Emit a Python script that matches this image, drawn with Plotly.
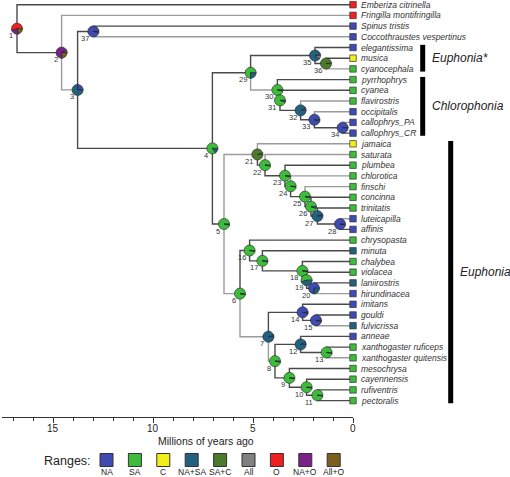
import math
import plotly.graph_objects as go

# ---------------- data ----------------
range_names = ["NA", "SA", "C", "NA+SA", "SA+C", "All", "O", "NA+O", "All+O"]
range_colors = ["#3f4bb0", "#3dbb3a", "#f2ee1a", "#23617f", "#4a7a2b",
                "#808080", "#ee2020", "#7b2189", "#7a5f1f"]

tips = ["Emberiza citrinella", "Fringilla montifringilla", "Spinus tristis",
        "Coccothraustes vespertinus", "elegantissima", "musica", "cyanocephala",
        "pyrrhophrys", "cyanea", "flavirostris", "occipitalis", "callophrys_PA",
        "callophrys_CR", "jamaica", "saturata", "plumbea", "chlorotica", "finschi",
        "concinna", "trinitatis", "luteicapilla", "affinis", "chrysopasta", "minuta",
        "chalybea", "violacea", "laniirostris", "hirundinacea", "imitans", "gouldi",
        "fulvicrissa", "anneae", "xanthogaster ruficeps", "xanthogaster quitensis",
        "mesochrysa", "cayennensis", "rufiventris", "pectoralis"]
tip_ranges = ["O", "O", "NA", "NA", "NA", "C", "SA", "SA", "SA", "SA", "NA", "NA",
              "NA", "C", "SA", "SA", "SA", "SA", "SA", "SA", "NA", "NA", "SA", "NA+SA",
              "SA", "SA", "NA+SA", "NA", "NA", "NA", "NA+SA", "NA", "SA", "SA",
              "SA", "SA", "SA", "SA"]

node_ids = [1, 2, 3, 37, 4, 29, 35, 36, 30, 31, 32, 33, 34, 5, 21, 22, 23, 24, 25,
            26, 27, 28, 6, 16, 17, 18, 19, 20, 7, 14, 15, 8, 12, 13, 9, 10, 11]
node_ages = [16.8, 14.57, 13.77, 12.98, 7.03, 5.12, 1.9, 1.35, 3.78, 3.65, 2.62,
             1.93, 0.52, 6.45, 4.78, 4.4, 3.4, 3.12, 2.4, 2.1, 1.78, 0.65, 5.65,
             5.17, 4.53, 2.53, 2.32, 1.95, 4.23, 2.52, 1.85, 3.9, 2.62, 1.32, 3.18,
             2.32, 1.78]
node_children = [
    ("Emberiza citrinella", 2), ("Fringilla montifringilla", 3), (37, 4),
    ("Spinus tristis", "Coccothraustes vespertinus"), (29, 5), (35, 30),
    ("elegantissima", 36), ("musica", "cyanocephala"), ("pyrrhophrys", 31),
    ("cyanea", 32), ("flavirostris", 33), ("occipitalis", 34),
    ("callophrys_PA", "callophrys_CR"), (21, 6), ("jamaica", 22), ("saturata", 23),
    ("plumbea", 24), ("chlorotica", 25), ("finschi", 26), ("concinna", 27),
    ("trinitatis", 28), ("luteicapilla", "affinis"), (16, 7), ("chrysopasta", 17),
    ("minuta", 18), ("chalybea", 19), ("violacea", 20),
    ("laniirostris", "hirundinacea"), (14, 8), ("imitans", 15),
    ("gouldi", "fulvicrissa"), (12, 9), ("anneae", 13),
    ("xanthogaster ruficeps", "xanthogaster quitensis"), ("mesochrysa", 10),
    ("cayennensis", 11), ("rufiventris", "pectoralis")]
node_probs = [
    {"O": 0.55, "NA+O": 0.25, "All+O": 0.20},
    {"NA": 0.03, "All": 0.05, "NA+O": 0.68, "All+O": 0.24},
    {"NA": 0.25, "NA+SA": 0.75},
    {"NA": 0.97, "NA+SA": 0.03},
    {"SA": 0.85, "NA+SA": 0.15},
    {"SA": 0.75, "NA+SA": 0.25},
    {"NA": 0.04, "NA+SA": 0.86, "All": 0.10},
    {"C": 0.03, "SA+C": 0.97},
    {"SA": 0.97, "NA+SA": 0.03},
    {"SA": 0.95, "NA+SA": 0.05},
    {"NA": 0.08, "NA+SA": 0.92},
    {"NA": 0.95, "NA+SA": 0.05},
    {"NA": 1.0},
    {"SA": 0.97, "NA+SA": 0.03},
    {"SA": 0.05, "SA+C": 0.95},
    {"SA": 0.98, "SA+C": 0.02},
    {"SA": 0.98, "NA+SA": 0.02},
    {"SA": 0.98, "NA+SA": 0.02},
    {"SA": 0.97, "NA+SA": 0.03},
    {"SA": 0.95, "NA+SA": 0.05},
    {"NA": 0.05, "NA+SA": 0.95},
    {"NA": 0.98, "NA+SA": 0.02},
    {"SA": 0.98, "NA+SA": 0.02},
    {"SA": 0.98, "NA+SA": 0.02},
    {"SA": 0.97, "NA+SA": 0.03},
    {"SA": 0.97, "NA+SA": 0.03},
    {"SA": 0.55, "NA+SA": 0.45},
    {"NA": 0.75, "NA+SA": 0.25},
    {"NA": 0.05, "NA+SA": 0.95},
    {"NA": 0.97, "NA+SA": 0.03},
    {"NA": 0.97, "NA+SA": 0.03},
    {"SA": 0.97, "NA+SA": 0.03},
    {"NA": 0.08, "NA+SA": 0.92},
    {"SA": 0.98, "NA+SA": 0.02},
    {"SA": 0.98, "NA+SA": 0.02},
    {"SA": 0.98, "NA+SA": 0.02},
    {"SA": 0.98, "NA+SA": 0.02},
]

# branches (identified by their child) that are drawn in the lighter grey
light_edges = ["Fringilla montifringilla", 3, "Coccothraustes vespertinus",
               "cyanocephala", 21, 6, 7, 8, "jamaica", "hirundinacea",
               "fulvicrissa", "xanthogaster quitensis", "luteicapilla", "finschi",
               "saturata", "chlorotica", "flavirostris", "occipitalis",
               "callophrys_PA", 30]

clade_names = ["Euphonia*", "Chlorophonia", "Euphonia"]
clade_first = ["elegantissima", "pyrrhophrys", "jamaica"]
clade_last = ["cyanocephala", "callophrys_CR", "pectoralis"]
clade_column = [0, 0, 1]

axis_ticks = [0, 5, 10, 15]

# ---------------- geometry helpers ----------------
W, H = 510, 477
MB = 60                       # bottom margin (axis + legend area)
PH = H - MB                   # plot area height in px
PX_PER_MY = 20.0
X0_PX = 353.0                 # pixel of time 0
ROW_PX = 10.7
ROW0_PX = 4.7
DARK, LIGHT = "#4a4a4a", "#9c9c9c"

xr = [X0_PX / PX_PER_MY, (X0_PX - W) / PX_PER_MY]
yr = [(PH - ROW0_PX) / ROW_PX, -ROW0_PX / ROW_PX]

col = dict(zip(range_names, range_colors))
tip_index = {t: i for i, t in enumerate(tips)}
age_of = dict(zip(node_ids, node_ages))
kids_of = dict(zip(node_ids, node_children))

ypos = {}


def y_of(c):
    if isinstance(c, str):
        return float(tip_index[c])
    if c in ypos:
        return ypos[c]
    a, b = kids_of[c]
    ypos[c] = (y_of(a) + y_of(b)) / 2.0
    return ypos[c]


def x_of(c):
    return 0.0 if isinstance(c, str) else age_of[c]


for n in node_ids:
    y_of(n)


def py_paper(ypx):
    return (PH - ypx) / PH


fig = go.Figure()

# branches: each edge = half vertical at parent + horizontal to child
segs = {DARK: ([], []), LIGHT: ([], [])}
for n in node_ids:
    xn, yn = age_of[n], ypos[n]
    for c in kids_of[n]:
        sx, sy = segs[LIGHT if c in light_edges else DARK]
        sx += [xn, xn, x_of(c), None]
        sy += [yn, y_of(c), y_of(c), None]
for colr in (LIGHT, DARK):
    sx, sy = segs[colr]
    fig.add_trace(go.Scatter(x=sx, y=sy, mode="lines",
                             line=dict(color=colr, width=1.4),
                             hoverinfo="skip", showlegend=False))

# pies
R_PX = 5.6
rx = R_PX / PX_PER_MY
ry = R_PX / ROW_PX
for n, probs in zip(node_ids, node_probs):
    xc, yc = age_of[n], ypos[n]
    a0 = 0.0
    for rn in range_names:
        p = probs.get(rn, 0)
        if p <= 0:
            continue
        a1 = a0 + 2 * math.pi * p
        steps = max(2, int(60 * p))
        px, py = [xc], [yc]
        for k in range(steps + 1):
            a = a0 + (a1 - a0) * k / steps
            px.append(xc - rx * math.cos(a))
            py.append(yc - ry * math.sin(a))
        px.append(xc)
        py.append(yc)
        fig.add_trace(go.Scatter(x=px, y=py, mode="lines", fill="toself",
                                 fillcolor=col[rn],
                                 line=dict(color="#222222", width=0.6),
                                 hoverinfo="skip", showlegend=False))
        a0 = a1

# tip squares
fig.add_trace(go.Scatter(x=[0.0] * len(tips), y=list(range(len(tips))),
                         mode="markers",
                         marker=dict(symbol="square", size=6.5,
                                     color=[col[r] for r in tip_ranges],
                                     line=dict(color="#333333", width=0.7)),
                         hoverinfo="skip", showlegend=False))

ann = []
for i, t in enumerate(tips):
    ann.append(dict(x=0, y=i, xref="x", yref="y", text="<i>%s</i>" % t,
                    showarrow=False, xanchor="left", yanchor="middle", xshift=6,
                    font=dict(family="Liberation Sans", size=8.5, color="#333333")))
for n in node_ids:
    ann.append(dict(x=age_of[n], y=ypos[n], xref="x", yref="y", text=str(n),
                    showarrow=False, xanchor="right", yanchor="middle",
                    xshift=-2, yshift=-7,
                    font=dict(family="Liberation Sans", size=7.5, color="#333333")))

# clade bars
shapes = []
bar_x_px = [422.7, 450.7]
for name, f, l, c in zip(clade_names, clade_first, clade_last, clade_column):
    xb = (X0_PX - bar_x_px[c]) / PX_PER_MY
    y1, y2 = tip_index[f] - 0.25, tip_index[l] + 0.25
    shapes.append(dict(type="line", xref="x", yref="y", x0=xb, x1=xb, y0=y1, y1=y2,
                       line=dict(color="#000000", width=5)))
    ann.append(dict(x=xb, y=(tip_index[f] + tip_index[l]) / 2, xref="x", yref="y",
                    text="<i>%s</i>" % name, showarrow=False, xanchor="left",
                    yanchor="middle", xshift=7,
                    font=dict(family="Liberation Sans", size=12, color="#222222")))

# axis tick labels and title
for v in axis_ticks:
    ann.append(dict(x=v, y=py_paper(428), xref="x2", yref="paper", text=str(v),
                    showarrow=False, xanchor="center", yanchor="middle",
                    font=dict(family="Liberation Sans", size=10, color="#222222")))
ann.append(dict(x=205.5 / W, y=py_paper(441), xref="paper", yref="paper",
                text="Millions of years ago", showarrow=False, xanchor="center",
                yanchor="middle",
                font=dict(family="Liberation Sans", size=10.5, color="#222222")))

# legend
ann.append(dict(x=93 / W, y=py_paper(461), xref="paper", yref="paper",
                text="Ranges:", showarrow=False, xanchor="right", yanchor="middle",
                font=dict(family="Liberation Sans", size=12.5, color="#222222")))
for k, (rn, rc) in enumerate(zip(range_names, range_colors)):
    cx = 106.5 + k * 28.4
    shapes.append(dict(type="rect", xref="paper", yref="paper",
                       x0=(cx - 6.5) / W, x1=(cx + 6.5) / W,
                       y0=py_paper(466.5), y1=py_paper(453.5),
                       fillcolor=rc, line=dict(color="#333333", width=1)))
    ann.append(dict(x=cx / W, y=py_paper(471.5), xref="paper", yref="paper",
                    text=rn, showarrow=False, xanchor="center", yanchor="middle",
                    borderpad=0,
                    font=dict(family="Liberation Sans", size=8.5, color="#222222")))

# time axis
fig.add_trace(go.Scatter(x=[17.55, 0], y=[yr[0], yr[0]], xaxis="x2", yaxis="y",
                         mode="markers", marker=dict(opacity=0),
                         hoverinfo="skip", showlegend=False))

fig.update_layout(
    width=W, height=H, margin=dict(l=0, r=0, t=0, b=MB),
    paper_bgcolor="white", plot_bgcolor="rgba(0,0,0,0)",
    xaxis=dict(range=xr, visible=False, domain=[0, 1]),
    yaxis=dict(range=yr, visible=False),
    xaxis2=dict(domain=[2 / W, X0_PX / W], range=[17.55, 0], anchor="y",
                showline=True, linecolor="#333333", linewidth=1,
                ticks="outside", ticklen=5, tickcolor="#333333",
                tickvals=axis_ticks, showticklabels=False,
                showgrid=False, zeroline=False,
                minor=dict(dtick=1, ticks="outside", ticklen=3, tickcolor="#333333",
                           showgrid=False)),
    shapes=shapes, annotations=ann, showlegend=False,
)

fig.write_html("out.html", config={"displayModeBar": False},
               post_script="document.body.style.margin='0px';"
                           "document.body.style.overflow='hidden';")
